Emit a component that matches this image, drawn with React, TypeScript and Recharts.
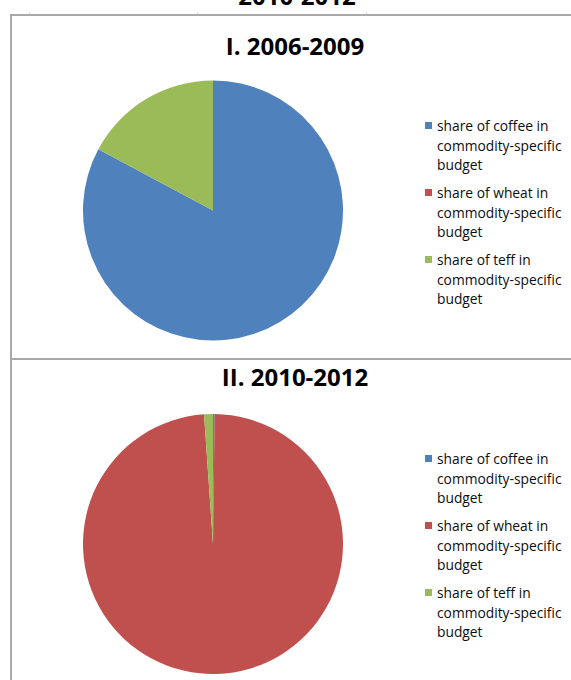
import React from "react";
import { PieChart, Pie, Cell, Legend } from "recharts";

const categories = [
  "share of coffee in commodity-specific budget",
  "share of wheat in commodity-specific budget",
  "share of teff in commodity-specific budget",
];
const colors = ["#4F81BD", "#C0504D", "#9BBB59"];

// percent of commodity-specific budget
const shares2006 = [82.8, 0, 17.2];
const shares2010 = [0.2, 98.7, 1.1];

const pageTitle = "2010-2012";
const panelTitles = ["I. 2006-2009", "II. 2010-2012"];

const FONT = '"Open Sans", "Liberation Sans", sans-serif';
const BORDER = "#a9a9a9";

function buildData(values: number[]) {
  return categories.map((name, i) => ({ name, value: values[i] }));
}

function LegendBox() {
  return (
    <div style={{ fontFamily: FONT, fontSize: 13.8, lineHeight: "19.5px", color: "#0d0d0d" }}>
      {categories.map((c, i) => (
        <div key={c} style={{ position: "relative", paddingLeft: 12, width: 132, marginBottom: 8.5 }}>
          <span
            style={{
              position: "absolute",
              left: 0,
              top: 6,
              width: 7,
              height: 7,
              background: colors[i],
            }}
          />
          {c}
        </div>
      ))}
    </div>
  );
}

interface PanelProps {
  top: number;
  height: number;
  title: string;
  titleTop: number;
  cy: number;
  legendTop: number;
  values: number[];
}

function PiePanel({ top, height, title, titleTop, cy, legendTop, values }: PanelProps) {
  const data = buildData(values);
  return (
    <div style={{ position: "absolute", left: 10, top, width: 561, height }}>
      <div
        style={{
          position: "absolute",
          left: 185,
          width: 200,
          top: titleTop,
          textAlign: "center",
          fontFamily: FONT,
          fontWeight: 700,
          fontSize: 24,
          lineHeight: "24px",
          color: "#000",
          zIndex: 2,
        }}
      >
        {title}
      </div>
      <PieChart width={561} height={height} margin={{ top: 0, right: 0, bottom: 0, left: 0 }}>
        <Pie
          data={data}
          dataKey="value"
          nameKey="name"
          cx={203}
          cy={cy}
          outerRadius={130}
          startAngle={90}
          endAngle={-270}
          stroke="none"
          isAnimationActive={false}
        >
          {data.map((d, i) => (
            <Cell key={d.name} fill={colors[i]} />
          ))}
        </Pie>
        <Legend
          layout="vertical"
          align="right"
          verticalAlign="top"
          content={() => <LegendBox />}
          wrapperStyle={{ left: 415, top: legendTop, width: 146 }}
        />
      </PieChart>
    </div>
  );
}

export default function App() {
  return (
    <div
      style={{
        position: "absolute",
        left: 0,
        top: 0,
        width: 571,
        height: 680,
        overflow: "hidden",
        background: "#fff",
      }}
    >
      <div
        style={{
          position: "absolute",
          left: 197,
          width: 200,
          top: -16,
          textAlign: "center",
          fontFamily: FONT,
          fontWeight: 700,
          fontSize: 24,
          lineHeight: "24px",
          color: "#000",
        }}
      >
        {pageTitle}
      </div>
      {[29, 197, 366].map((x) => (
        <div key={x} style={{ position: "absolute", left: x, top: 12, width: 1, height: 2, background: "#dcdcdc" }} />
      ))}
      {/* frame */}
      <div
        style={{
          position: "absolute",
          left: 10,
          top: 14,
          width: 580,
          height: 700,
          borderLeft: `2px solid ${BORDER}`,
          borderTop: `2px solid ${BORDER}`,
          boxSizing: "border-box",
        }}
      />
      <div style={{ position: "absolute", left: 10, top: 358, width: 570, height: 2, background: BORDER }} />
      <PiePanel
        top={14}
        height={344}
        title={panelTitles[0]}
        titleTop={20}
        cy={196.5}
        legendTop={102}
        values={shares2006}
      />
      <PiePanel
        top={359}
        height={321}
        title={panelTitles[1]}
        titleTop={6}
        cy={185}
        legendTop={90}
        values={shares2010}
      />
    </div>
  );
}
